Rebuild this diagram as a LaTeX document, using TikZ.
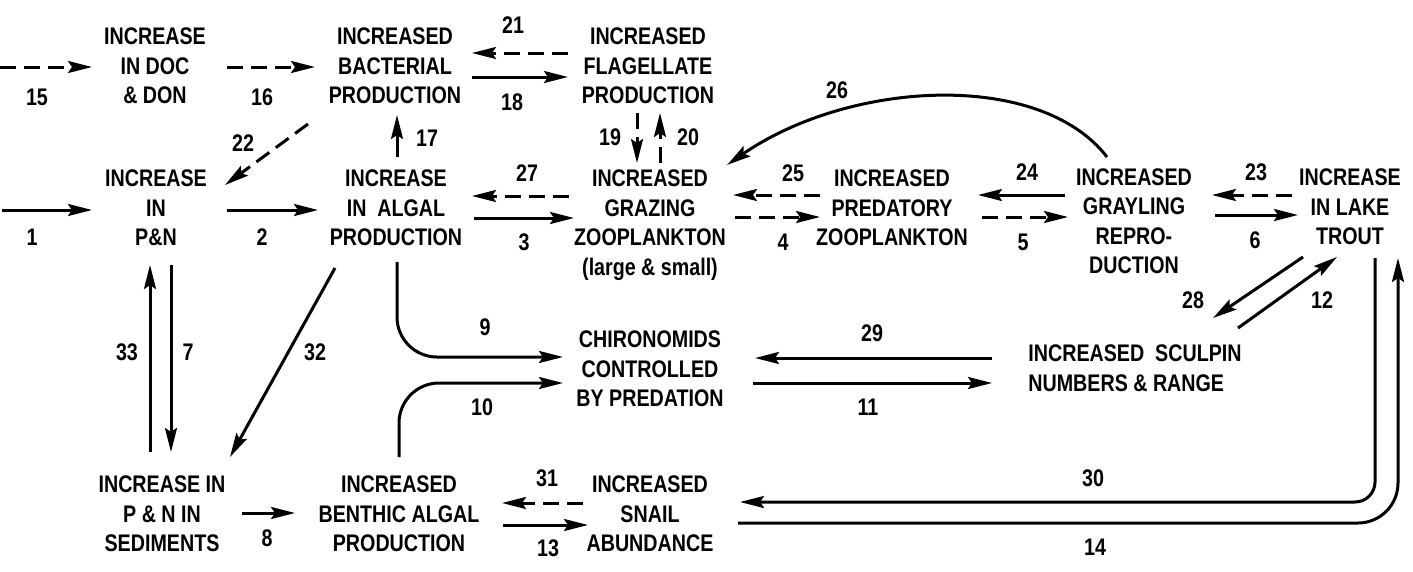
\documentclass[tikz,border=0pt]{standalone}
\usepackage{fontspec}
\setmainfont{Liberation Sans}[FakeStretch=0.82]
\usetikzlibrary{arrows.meta}
\begin{document}
\begin{tikzpicture}[x=1pt,y=-1pt,
  box/.style={font=\fontsize{24}{29.5}\selectfont\bfseries, align=center, inner sep=0pt},
  num/.style={font=\fontsize{24}{24}\selectfont\bfseries, inner sep=0pt},
  arr/.style={line width=3pt, -{Stealth[length=24pt,width=12pt,inset=4pt]}},
  dsh/.style={arr, dash pattern=on 16pt off 8pt}]
\useasboundingbox[fill=white] (0,0) rectangle (1413,571);
% nodes
\node[box] (doc) at (155,66) {INCREASE\\IN DOC\\\& DON};
\node[box] (bact) at (395,66) {INCREASED\\BACTERIAL\\PRODUCTION};
\node[box] (flag) at (648,66) {INCREASED\\FLAGELLATE\\PRODUCTION};
\node[box] (pn) at (156,208) {INCREASE\\IN\\P\&N};
\node[box] (alg) at (396,208) {INCREASE\\IN\ \ ALGAL\\PRODUCTION};
\node[box] (graz) at (650,225) {INCREASED\\GRAZING\\ZOOPLANKTON\\(large \& small)};
\node[box] (pred) at (892,208) {INCREASED\\PREDATORY\\ZOOPLANKTON};
\node[box] (gray) at (1134,221) {INCREASED\\GRAYLING\\REPRO-\\DUCTION};
\node[box] (trout) at (1350,207) {INCREASE\\IN LAKE\\TROUT};
\node[box] (chir) at (650,369) {CHIRONOMIDS\\CONTROLLED\\BY PREDATION};
\node[box,align=left] (sculp) at (1135,368) {INCREASED\ \ SCULPIN\\NUMBERS \& RANGE};
\node[box] (sed) at (162,514) {INCREASE IN\\P \& N IN\\SEDIMENTS};
\node[box] (benth) at (399,514) {INCREASED\\BENTHIC ALGAL\\PRODUCTION};
\node[box] (snail) at (650,514) {INCREASED\\SNAIL\\ABUNDANCE};
\coordinate (s15) at (0,67);
\coordinate (s1) at (2,210);
% row 1
\draw[dsh] (s15) -- ([shift={(-63,1)}]doc.center);
\draw[dsh] ([shift={(72,1)}]doc.center) -- ([shift={(-80,1)}]bact.center);
\draw[dsh] ([shift={(-80,-13)}]flag.center) -- ([shift={(77,-13)}]bact.center);
\draw[arr] ([shift={(77,11)}]bact.center) -- ([shift={(-80,11)}]flag.center);
\draw[arr] ([shift={(1,-51)}]alg.center) -- ([shift={(2,49)}]bact.center);
\draw[dsh] ([shift={(-11,47)}]flag.center) -- ([shift={(-13,-62)}]graz.center);
\draw[dsh] ([shift={(10,-62)}]graz.center) -- ([shift={(12,47)}]flag.center);
\draw[dsh] ([shift={(-87,58)}]bact.center) -- ([shift={(69,-23)}]pn.center);
% row 2
\draw[arr] (s1) -- ([shift={(-64,2)}]pn.center);
\draw[arr] ([shift={(71,2)}]pn.center) -- ([shift={(-78,2)}]alg.center);
\draw[dsh] ([shift={(-81,-29)}]graz.center) -- ([shift={(76,-12)}]alg.center);
\draw[arr] ([shift={(78,10)}]alg.center) -- ([shift={(-76,-7)}]graz.center);
\draw[dsh] ([shift={(-72,-13)}]pred.center) -- ([shift={(83,-30)}]graz.center);
\draw[dsh] ([shift={(85,-8)}]graz.center) -- ([shift={(-72,9)}]pred.center);
\draw[arr] ([shift={(-69,-26)}]gray.center) -- ([shift={(86,-13)}]pred.center);
\draw[dsh] ([shift={(90,9)}]pred.center) -- ([shift={(-66,-4)}]gray.center);
\draw[dsh] ([shift={(-58,-12)}]trout.center) -- ([shift={(78,-26)}]gray.center);
\draw[arr] ([shift={(81,-6)}]gray.center) -- ([shift={(-52,8)}]trout.center);
\draw[arr] ([shift={(-27,-64)}]gray.center) .. controls +(-67,-87) and +(123,-85) .. ([shift={(77,-60)}]graz.center);
% middle
\draw[arr] ([shift={(15,57)}]pn.center) -- ([shift={(9,-62)}]sed.center);
\draw[arr] ([shift={(-12,-62)}]sed.center) -- ([shift={(-6,57)}]pn.center);
\draw[arr] ([shift={(-61,60)}]alg.center) -- ([shift={(68,-57)}]sed.center);
\draw[arr,rounded corners=40pt] ([shift={(1,54)}]alg.center) |- ([shift={(-87,-12)}]chir.center);
\draw[arr,rounded corners=40pt] ([shift={(0,-57)}]benth.center) |- ([shift={(-87,14)}]chir.center);
\draw[arr] ([shift={(-143,-10)}]sculp.center) -- ([shift={(105,-11)}]chir.center);
\draw[arr] ([shift={(103,14)}]chir.center) -- ([shift={(-143,15)}]sculp.center);
\draw[arr] ([shift={(-47,50)}]trout.center) -- ([shift={(78,-50)}]sculp.center);
\draw[arr] ([shift={(103,-40)}]sculp.center) -- ([shift={(-13,50)}]trout.center);
% bottom
\draw[arr] ([shift={(80,-1)}]sed.center) -- ([shift={(-104,-1)}]benth.center);
\draw[dsh] ([shift={(-67,-11)}]snail.center) -- ([shift={(103,-11)}]benth.center);
\draw[arr] ([shift={(104,11)}]benth.center) -- ([shift={(-62,11)}]snail.center);
\draw[arr,rounded corners=20pt] ([shift={(25,51)}]trout.center) |- ([shift={(90,-12)}]snail.center);
\draw[arr,rounded corners=40pt] ([shift={(88,9)}]snail.center) -| ([shift={(48,51)}]trout.center);
% labels
\node[num] (n15) at (37,97) {15};
\node[num] (n16) at (262,97) {16};
\node[num] (n21) at (513,25) {21};
\node[num] (n18) at (512,102) {18};
\node[num] (n17) at (427,138) {17};
\node[num] (n22) at (243,143) {22};
\node[num] (n19) at (610,137) {19};
\node[num] (n20) at (688,137) {20};
\node[num] (n26) at (837,90) {26};
\node[num] (n1) at (32,237) {1};
\node[num] (n2) at (262,237) {2};
\node[num] (n27) at (527,173) {27};
\node[num] (n3) at (524,242) {3};
\node[num] (n25) at (793,173) {25};
\node[num] (n4) at (783,242) {4};
\node[num] (n24) at (1027,172) {24};
\node[num] (n5) at (1023,242) {5};
\node[num] (n23) at (1256,172) {23};
\node[num] (n6) at (1255,240) {6};
\node[num] (n33) at (127,352) {33};
\node[num] (n7) at (188,352) {7};
\node[num] (n32) at (315,352) {32};
\node[num] (n9) at (485,327) {9};
\node[num] (n10) at (482,407) {10};
\node[num] (n29) at (872,333) {29};
\node[num] (n11) at (868,407) {11};
\node[num] (n28) at (1193,300) {28};
\node[num] (n12) at (1322,300) {12};
\node[num] (n30) at (1093,478) {30};
\node[num] (n14) at (1095,547) {14};
\node[num] (n8) at (267,538) {8};
\node[num] (n31) at (547,478) {31};
\node[num] (n13) at (548,548) {13};
\end{tikzpicture}
\end{document}
